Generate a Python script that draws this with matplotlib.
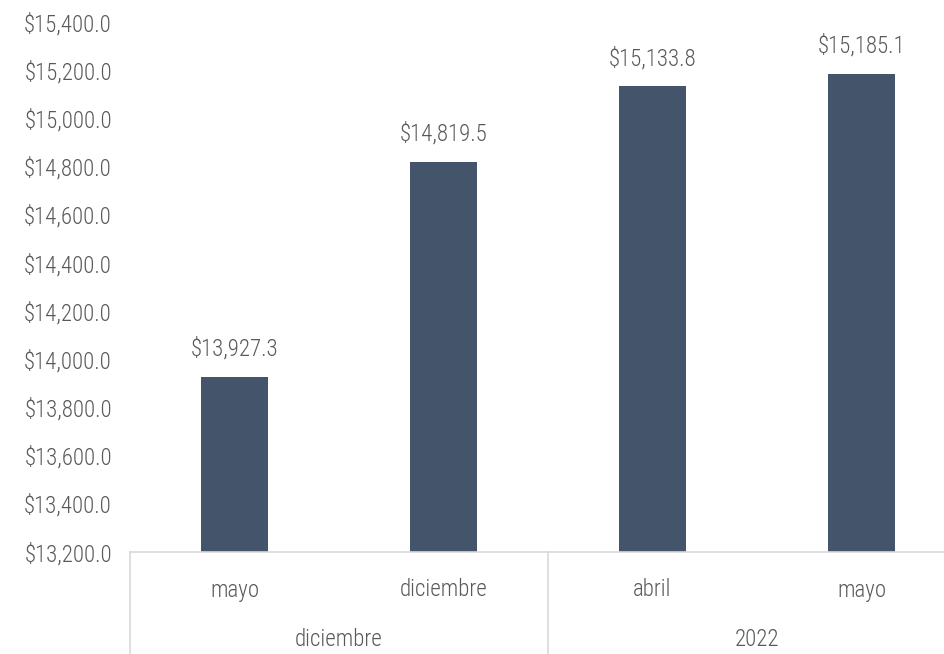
import matplotlib.pyplot as plt
from matplotlib.ticker import FuncFormatter
import matplotlib.transforms as mtransforms

# data
months = ['mayo', 'diciembre', 'abril', 'mayo']
groups = ['diciembre', '2022']
group_sizes = [2, 2]
values = [13927.3, 14819.5, 15133.8, 15185.1]

bar_color = '#44546A'
text_color = '#595959'
line_color = '#D9D9D9'

plt.rcParams['font.family'] = ['Roboto Condensed', 'Liberation Sans Narrow', 'DejaVu Sans']
plt.rcParams['font.stretch'] = 'condensed'
plt.rcParams['font.weight'] = 'light'
fs = 16.5

fig = plt.figure(figsize=(9.44, 6.54), dpi=100)
# the plot area runs past the right edge of the picture, as in the reference
ax = fig.add_axes([130 / 944, 102 / 654, 836 / 944, 530 / 654])

x = list(range(len(values)))
ax.bar(x, values, width=0.316, color=bar_color, zorder=2)

ax.set_ylim(13200, 15400)
ax.set_xlim(-0.5, len(values) - 0.5)
ax.set_yticks(range(13200, 15401, 200))
ax.yaxis.set_major_formatter(FuncFormatter(lambda v, p: f'${v:,.1f}'))
ax.tick_params(axis='y', length=0, pad=13, labelsize=fs, labelcolor=text_color)
ax.set_xticks([])

for s in ['top', 'right', 'left']:
    ax.spines[s].set_visible(False)
ax.spines['bottom'].set_color(line_color)
ax.spines['bottom'].set_linewidth(1.2)

for xi, v in zip(x, values):
    ax.annotate(f'${v:,.1f}', (xi, v), xytext=(0, 20), textcoords='offset points',
                ha='center', va='center', fontsize=fs, color=text_color)

# two-level category axis
trans = mtransforms.blended_transform_factory(ax.transData, ax.transAxes)
px = 1 / 530  # one pixel in axes units (vertical)
for xi, m in zip(x, months):
    ax.text(xi, -38 * px, m, transform=trans, ha='center', va='center',
            fontsize=fs, color=text_color)

start = 0
edges = [-0.5]
for g, n in zip(groups, group_sizes):
    centre = start + (n - 1) / 2
    ax.text(centre, -88 * px, g, transform=trans, ha='center', va='center',
            fontsize=fs, color=text_color)
    start += n
    edges.append(start - 0.5)

for e in edges:
    ax.plot([e, e], [0, -110 * px], transform=trans, color=line_color,
            linewidth=1.2, clip_on=False)

fig.savefig('out.png', dpi=100)
